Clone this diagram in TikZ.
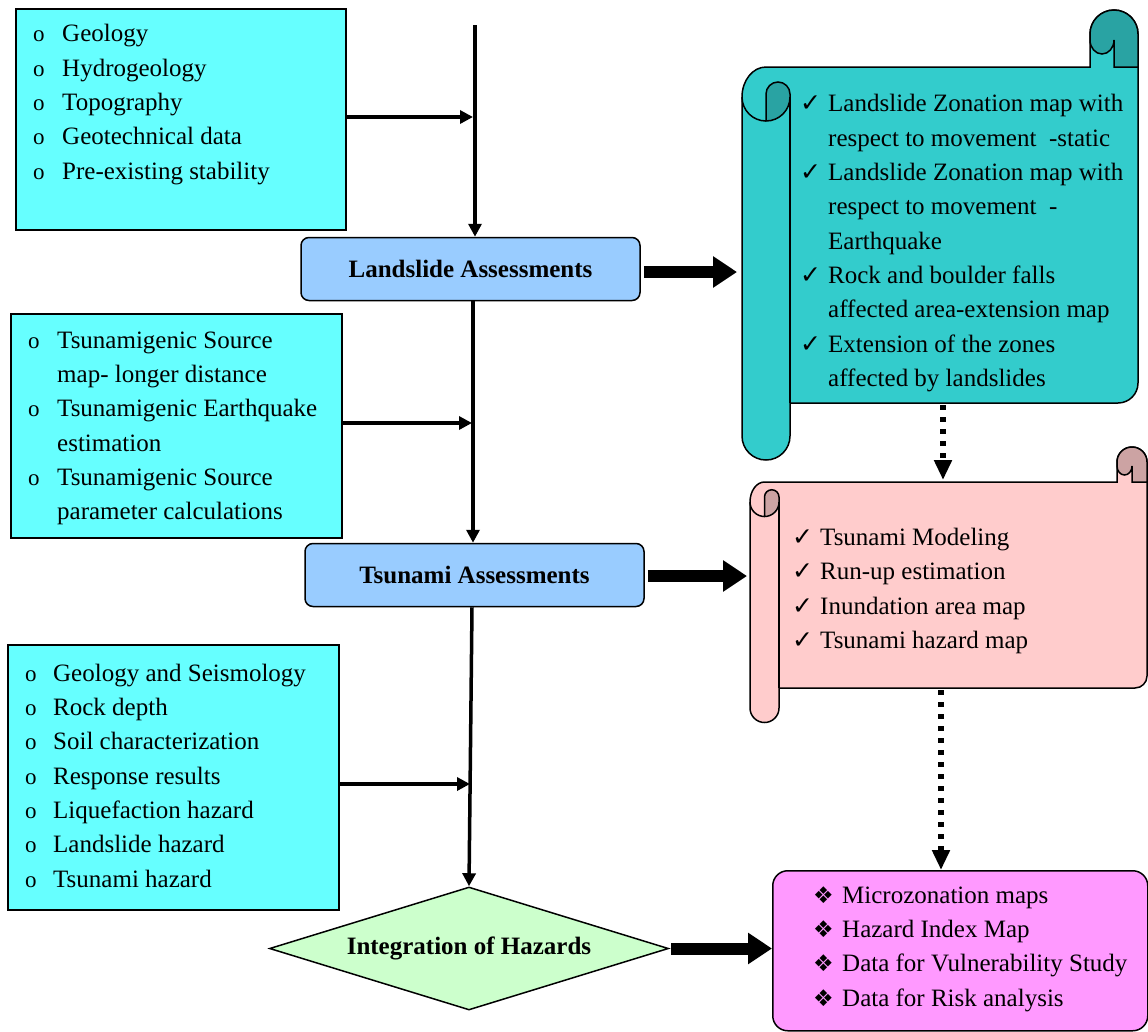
\documentclass[tikz,border=0pt]{standalone}
\usepackage{fontspec}
\setmainfont{Liberation Serif}
\newfontfamily\symfont{DejaVu Sans}
\usetikzlibrary{arrows.meta, shapes.geometric}

\definecolor{inputcyan}{HTML}{66FFFF}
\definecolor{stepblue}{HTML}{99CCFF}
\definecolor{scrollteal}{HTML}{33CCCC}
\definecolor{curlteal}{HTML}{29A3A3}
\definecolor{scrollpink}{HTML}{FFCCCC}
\definecolor{curlpink}{HTML}{CCA3A3}
\definecolor{mergegreen}{HTML}{CCFFCC}
\definecolor{outmagenta}{HTML}{FF99FF}

\newcommand{\circb}[1][29pt]{\makebox[#1][l]{\fontsize{23}{23}\selectfont o}}
\newcommand{\tickb}{\makebox[28pt][l]{\symfont\fontsize{25}{25}\selectfont ✓}}
\newcommand{\diab}{\makebox[29pt][l]{\symfont\fontsize{23}{23}\selectfont ❖}}

\begin{document}
\begin{tikzpicture}[x=1pt, y=-1pt,
  txt/.style={font=\fontsize{25}{34.3}\selectfont, align=left, inner sep=0pt, anchor=west},
  inbox/.style={draw=black, line width=1.5pt, fill=inputcyan, anchor=north west, inner sep=0pt},
  stepbox/.style={draw=black, line width=1.5pt, fill=stepblue, rounded corners=8pt,
    minimum width=339pt, minimum height=63pt, inner sep=0pt, font=\fontsize{25}{30}\selectfont\bfseries},
  thinarrow/.style={line width=3.5pt, -{Triangle[length=13pt,width=13pt]}},
  fatarrow/.style={line width=12pt, -{Triangle[length=24pt,width=30pt]}},
  dotarrow/.style={line width=6pt, dash pattern=on 5pt off 7pt, -{Triangle[length=20pt,width=17pt]}},
  scrollline/.style={draw=black, line width=1.5pt}]
  \useasboundingbox (0,0) rectangle (1148,1031);

  % Input boxes
  \node[inbox, minimum width=330pt, minimum height=221pt] (b1) at (15,8) {};
  \node[txt] (b1t) at (33,104.6) {\circb Geology\\ \circb Hydrogeology\\ \circb Topography\\
    \circb Geotechnical data\\ \circb Pre-existing stability};
  \node[inbox, minimum width=331pt, minimum height=224pt] (b2) at (10,313) {};
  \node[txt] (b2t) at (28,428.3) {\circb Tsunamigenic Source\\ \hspace*{29pt}map- longer distance\\
    \circb Tsunamigenic Earthquake\\ \hspace*{29pt}estimation\\
    \circb Tsunamigenic Source\\ \hspace*{29pt}parameter calculations};
  \node[inbox, minimum width=331pt, minimum height=265pt] (b3) at (7,644) {};
  \node[txt] (b3t) at (25,775.6) {\circb[28pt]Geology and Seismology\\ \circb[28pt]Rock depth\\
    \circb[28pt]Soil characterization\\ \circb[28pt]Response results\\
    \circb[28pt]Liquefaction hazard\\ \circb[28pt]Landslide hazard\\ \circb[28pt]Tsunami hazard};

  % Assessment steps
  \node[stepbox] (ls) at (470.5,269) {Landslide Assessments};
  \node[stepbox] (ts) at (474.5,575) {Tsunami Assessments};
  \node[diamond, shape aspect=3.2, draw=black, line width=1.5pt, fill=mergegreen,
    minimum width=399pt, minimum height=123pt, inner sep=0pt,
    font=\fontsize{25}{30}\selectfont\bfseries] (ih) at (469,948.5) {Integration of Hazards};

  % Landslide scroll
  \draw[scrollline, fill=scrollteal]
    (742,97) arc[start angle=180, end angle=270, x radius=24, y radius=30]
    -- (1090,67) -- (1090,34) arc[start angle=180, end angle=360, radius=24]
    -- (1138,383) arc[start angle=0, end angle=90, radius=20]
    -- (790,403) -- (790,436) arc[start angle=0, end angle=180, radius=24] -- cycle;
  \draw[scrollline, fill=curlteal]
    (1114,67) -- (1114,40) arc[start angle=0, end angle=180, x radius=12, y radius=14]
    -- (1090,34) arc[start angle=180, end angle=360, radius=24] -- (1138,67) -- cycle;
  \draw[scrollline, fill=curlteal]
    (766,121) -- (766,94) arc[start angle=180, end angle=360, radius=12]
    -- (790,97) arc[start angle=0, end angle=90, radius=24] -- cycle;
  \draw[scrollline] (742,97) arc[start angle=180, end angle=90, radius=24];
  \draw[scrollline] (790,97) -- (790,403);
  \node[txt] (lst) at (800,243.2) {\tickb Landslide Zonation map with\\
    \hspace*{28pt}respect to movement~ -static\\ \tickb Landslide Zonation map with\\
    \hspace*{28pt}respect to movement~ -\\ \hspace*{28pt}Earthquake\\
    \tickb Rock and boulder falls\\ \hspace*{28pt}affected area-extension map\\
    \tickb Extension of the zones\\ \hspace*{28pt}affected by landslides};

  % Tsunami scroll
  \draw[scrollline, fill=scrollpink]
    (750,502) arc[start angle=180, end angle=270, x radius=14.5, y radius=20]
    -- (1117,482) -- (1117,462) arc[start angle=180, end angle=360, radius=15]
    -- (1147,676) arc[start angle=0, end angle=90, radius=12]
    -- (779,688) -- (779,708) arc[start angle=0, end angle=180, radius=14.5] -- cycle;
  \draw[scrollline, fill=curlpink]
    (1132,482) -- (1132,466) arc[start angle=0, end angle=180, x radius=7.5, y radius=9]
    -- (1117,462) arc[start angle=180, end angle=360, radius=15] -- (1147,482) -- cycle;
  \draw[scrollline, fill=curlpink]
    (764.5,516.5) -- (764.5,497) arc[start angle=180, end angle=360, radius=7.25]
    -- (779,502) arc[start angle=0, end angle=90, radius=14.5] -- cycle;
  \draw[scrollline] (750,502) arc[start angle=180, end angle=90, radius=14.5];
  \draw[scrollline] (779,502) -- (779,688);
  \node[txt] (tst) at (792,591) {\tickb Tsunami Modeling\\ \tickb Run-up estimation\\
    \tickb Inundation area map\\ \tickb Tsunami hazard map};

  % Final outputs
  \node[draw=black, line width=1.5pt, fill=outmagenta, rounded corners=15pt, anchor=north west,
    minimum width=375pt, minimum height=160pt, inner sep=0pt] (mz) at (772,870) {};
  \node[txt] (mzt) at (813,949) {\diab Microzonation maps\\ \diab Hazard Index Map\\
    \diab Data for Vulnerability Study\\ \diab Data for Risk analysis};

  % Free ends
  \coordinate (top) at (475,25);
  \coordinate (j1) at (475,117);
  \coordinate (j2) at (473,423);
  \coordinate (j3) at (472,784);
  \coordinate (tealin) at (737,272);
  \coordinate (tealout) at (943,405);
  \coordinate (pinkin) at (943,480);
  \coordinate (pinkin2) at (747,576);
  \coordinate (pinkout) at (941,690);

  % Main flow
  \draw[thinarrow] (top) -- (top |- ls.north);
  \draw[thinarrow] (ls.south -| j2) -- (ts.north -| j2);
  \draw[thinarrow] (ts.south -| j3) -- (ih.north);
  \draw[thinarrow, shorten >=2pt] (b1.east |- j1) -- (j1);
  \draw[thinarrow, shorten >=1pt] (b2.east |- j2) -- (j2);
  \draw[thinarrow, shorten >=2pt] (b3.east |- j3) -- (j3);

  % Outputs
  \draw[fatarrow, shorten <=3pt] (ls.east |- tealin) -- (tealin);
  \draw[fatarrow, shorten <=3pt] (ts.east |- pinkin2) -- (pinkin2);
  \draw[fatarrow, shorten <=2pt] (ih.east) -- (ih.east -| mz.west);
  \draw[dotarrow] (tealout) -- (pinkin);
  \draw[dotarrow] (pinkout) -- (pinkout |- mz.north);
\end{tikzpicture}
\end{document}
